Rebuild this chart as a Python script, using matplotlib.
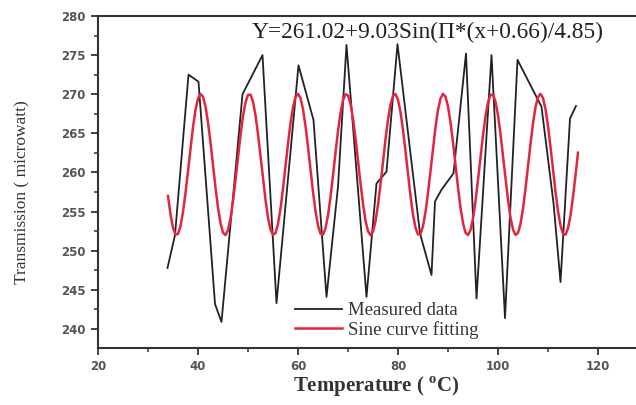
import numpy as np
import matplotlib
matplotlib.use('Agg')
import matplotlib.pyplot as plt
from matplotlib.ticker import MultipleLocator

# measured transmission
meas_temp = [33.9, 35.4, 38.1, 40.1, 43.4, 44.7, 48.9, 52.9, 55.7, 60.1, 63.1,
             65.7, 68.0, 69.7, 73.7, 75.7, 77.7, 79.9, 84.4, 86.7, 87.4, 88.7,
             91.1, 93.6, 95.7, 98.7, 101.4, 103.9, 108.7, 111.1, 112.5, 114.4, 115.6]
meas_val = [247.8, 252.0, 272.5, 271.6, 243.2, 240.9, 270.0, 275.0, 243.3, 273.7, 266.7,
            244.1, 258.2, 276.3, 244.1, 258.6, 260.1, 276.4, 252.2, 246.9, 256.3, 257.8,
            259.9, 275.2, 243.9, 275.0, 241.4, 274.4, 268.4, 256.1, 246.0, 266.9, 268.5]

# sine fit curve, read every 0.5 degC from 34 to 116
fit_temp = np.arange(34.0, 116.01, 0.5)
fit_val = [
    257.01, 254.65, 252.94, 252.08, 252.14, 253.13, 254.94, 257.38, 260.20, 263.11, 265.79,
    267.99, 269.45, 270.04, 269.69, 268.44, 266.42, 263.84, 260.96, 258.09, 255.52, 253.53,
    252.31, 252.00, 252.63, 254.13, 256.35, 259.05, 261.95, 264.76, 267.18, 268.96, 269.92,
    269.95, 269.05, 267.31, 264.92, 262.13, 259.22, 256.50, 254.24, 252.70, 252.02, 252.27,
    253.43, 255.39, 257.93, 260.79, 263.67, 266.28, 268.34, 269.64, 270.05, 269.51, 268.10,
    265.94, 263.28, 260.38, 257.54, 255.07, 253.22, 252.18, 252.05, 252.86, 254.52, 256.86,
    259.62, 262.53, 265.29, 267.60, 269.23, 270.00, 269.84, 268.76, 266.88, 264.39, 261.55,
    258.65, 256.00, 253.87, 252.49, 251.99, 252.43, 253.77, 255.86, 258.48, 261.37, 264.22,
    266.74, 268.67, 269.80, 270.02, 269.30, 267.72, 265.44, 262.71, 259.80, 257.01, 254.65,
    252.94, 252.08, 252.14, 253.13, 254.94, 257.38, 260.20, 263.11, 265.79, 267.99, 269.45,
    270.04, 269.69, 268.44, 266.42, 263.84, 260.96, 258.09, 255.52, 253.53, 252.31, 252.00,
    252.63, 254.13, 256.35, 259.05, 261.95, 264.76, 267.18, 268.96, 269.92, 269.95, 269.05,
    267.31, 264.92, 262.13, 259.22, 256.50, 254.24, 252.70, 252.02, 252.27, 253.43, 255.39,
    257.93, 260.79, 263.67, 266.28, 268.34, 269.64, 270.05, 269.51, 268.10, 265.94, 263.28,
    260.38, 257.54, 255.07, 253.22, 252.18, 252.05, 252.86, 254.52, 256.86, 259.62, 262.53,
]

fit_label = 'Y=261.02+9.03Sin(\u03a0*(x+0.66)/4.85)'

W, H = 636, 405
fig = plt.figure(figsize=(W / 100, H / 100), dpi=100)
# axes box in pixels: left 98, top 16, bottom 348; right spine falls off the image
ax = fig.add_axes([98 / W, (H - 348) / H, 550 / W, 332 / H])

ax.plot(meas_temp, meas_val, color='#222222', lw=1.3, label='Measured data')
ax.plot(fit_temp, fit_val, color='#e2263f', lw=1.8, label='Sine curve fitting')

ax.set_xlim(20, 130)
ax.set_ylim(237.57, 280)
ax.xaxis.set_major_locator(MultipleLocator(20))
ax.xaxis.set_minor_locator(MultipleLocator(10))
ax.yaxis.set_major_locator(MultipleLocator(5))
ax.yaxis.set_minor_locator(MultipleLocator(2.5))
ax.tick_params(which='major', direction='out', length=5, width=1.3, pad=4,
               colors='#333333', labelcolor='#555555')
ax.tick_params(which='minor', direction='out', length=3, width=1.1, colors='#333333')
for lbl in ax.get_xticklabels() + ax.get_yticklabels():
    lbl.set_fontfamily('DejaVu Sans')
    lbl.set_fontweight('bold')
    lbl.set_fontsize(8.5)
for s in ax.spines.values():
    s.set_linewidth(1.5)
    s.set_color('#333333')

leg = ax.legend(loc='upper left', bbox_to_anchor=(295 / W, (H - 302) / H),
                bbox_transform=fig.transFigure, frameon=False, borderpad=0,
                borderaxespad=0, handlelength=2.5, handletextpad=0.3,
                labelspacing=0.1, prop={'family': 'Liberation Serif', 'size': 13.5})
for t in leg.get_texts():
    t.set_color('#333333')

fig.text(252 / W, (H - 32) / H, fit_label,
         family='Liberation Serif', fontsize=16.8, color='#222222',
         ha='left', va='center')
fig.text(22 / W, (H - 192) / H, 'Transmission ( microwatt)',
         family='Liberation Serif', fontsize=12.5, color='#333333',
         rotation=90, ha='center', va='center')
fig.text(376 / W, (H - 387) / H, 'Temperature ( $^{\\mathregular{o}}$C)',
         family='Liberation Serif', fontweight='bold', fontsize=15,
         color='#333333', ha='center', va='center')

fig.savefig('out.png', dpi=100)
